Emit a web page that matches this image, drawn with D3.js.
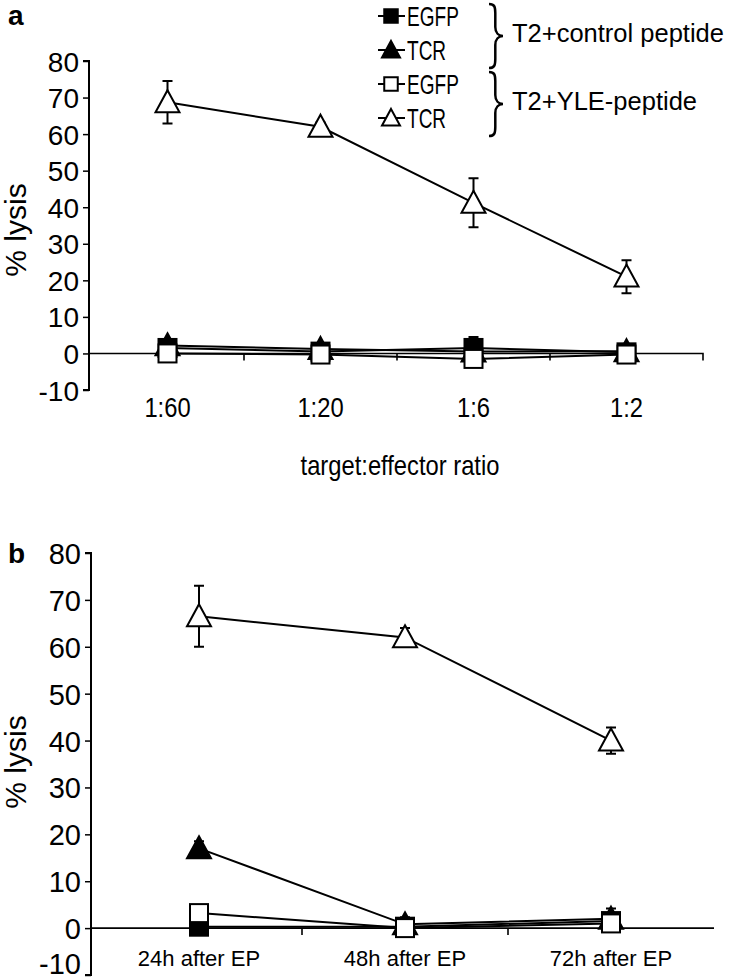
<!DOCTYPE html>
<html><head><meta charset="utf-8">
<script src="https://cdn.jsdelivr.net/npm/d3@7"></script>
<style>body{margin:0;background:#fff}svg{display:block}text{font-family:"Liberation Sans",Arial,sans-serif;fill:#000}</style>
</head><body><svg id="c" width="730" height="978"></svg>
<script>
// ---- data ----
const categoriesA = ["1:60", "1:20", "1:6", "1:2"];
const egfpCtrlA = [1.5, 0.5, 1.5, 0.3];
const egfpCtrlAErr = [1, 0.8, 3, 0.6];
const tcrCtrlA = [2.2, 1.2, 0.5, 0.6];
const tcrCtrlAErr = [1.5, 1.2, 1, 1];
const egfpYleA = [0, -0.3, -1.5, -0.3];
const egfpYleAErr = [0.5, 0.5, 0.5, 0.5];
const tcrYleA = [68.7, 62, 41.2, 21];
const tcrYleAErr = [5.8, 1.2, 6.7, 4.5];

const categoriesB = ["24h after EP", "48h after EP", "72h after EP"];
const egfpCtrlB = [0.3, 0.3, 1.5];
const egfpCtrlBErr = [0.5, 0.5, 0.5];
const tcrCtrlB = [17, 0.8, 2];
const tcrCtrlBErr = [1.5, 1.5, 2.2];
const egfpYleB = [3.2, 0, 1];
const egfpYleBErr = [0.5, 0.5, 0.5];
const tcrYleB = [66.5, 62, 40];
const tcrYleBErr = [6.5, 2, 2.8];

const yTicks = [80, 70, 60, 50, 40, 30, 20, 10, 0, -10];
const legendLabels = ["EGFP", "TCR", "EGFP", "TCR"];
const groupLabels = ["T2+control peptide", "T2+YLE-peptide"];

const svg = d3.select("#c");

function marker(g, type, x, y, s) {
  s = s || 1;
  if (type === "sq" || type === "sqo") {
    const h = 9 * s;
    g.append("rect").attr("x", x - h).attr("y", y - h).attr("width", 2 * h).attr("height", 2 * h)
      .attr("fill", type === "sq" ? "#000" : "#fff").attr("stroke", "#000").attr("stroke-width", 2);
  } else {
    const w = 12 * s, h = 22 * s;
    g.append("path").attr("d", `M${x},${y - h * 0.55}L${x + w},${y + h * 0.45}L${x - w},${y + h * 0.45}Z`)
      .attr("fill", type === "tri" ? "#000" : "#fff").attr("stroke", "#000").attr("stroke-width", 2);
  }
}

function panel(cfg) {
  const g = svg.append("g");
  const x = d3.scaleBand().domain(cfg.cats).range([cfg.xLeft, cfg.right]).paddingInner(0).paddingOuter(0);
  const y = d3.scaleLinear().domain([-10, 80]).range([cfg.bottom, cfg.top]);
  const cx = c => x(c) + x.bandwidth() / 2;

  // y axis
  const ya = d3.axisLeft(y).tickValues(yTicks).tickSize(6).tickFormat(d => String(d));
  const yg = g.append("g").attr("transform", `translate(${cfg.left},0)`).call(ya);
  yg.attr("font-family", null).attr("font-size", null);
  yg.select(".domain").attr("stroke-width", 2).attr("d", `M-6,${y(80)}H0V${y(-10)}H-6`);
  yg.selectAll(".tick line").attr("stroke-width", 1.5);
  yg.selectAll(".tick text").attr("font-size", cfg.tickFont).attr("x", -10)
    .attr("dy", d => (d === -10 && cfg.liftLast) ? "-0.04em" : "0.36em");

  // zero line (category axis)
  const xa = d3.axisBottom(x).tickSize(0).tickFormat(d => d);
  const xg = g.append("g").attr("transform", `translate(0,${y(0)})`).call(xa);
  xg.attr("font-family", null).attr("font-size", null);
  xg.select(".domain").attr("stroke-width", 1.6).attr("d", `M${cfg.left},0H${cfg.right}` + (cfg.endTick ? "V7" : ""));
  xg.selectAll(".tick text").attr("font-size", cfg.catFont).attr("dy", "0.36em").attr("y", 0)
    .attr("transform", `translate(0,${cfg.catLabelY - y(0)}) scale(${cfg.catScale},1)`);
  cfg.cats.slice(1).forEach(c => {
    g.append("line").attr("x1", x(c)).attr("x2", x(c)).attr("y1", y(0)).attr("y2", y(0) + 7)
      .attr("stroke", "#000").attr("stroke-width", 1.6);
  });

  const line = d3.line().x((d, i) => cx(cfg.cats[i])).y(d => y(d));
  cfg.series.forEach(s => {
    s.vals.forEach((v, i) => {
      const e = s.err[i], xx = cx(cfg.cats[i]);
      if (e <= 0) return;
      g.append("path").attr("d", `M${xx},${y(v - e)}V${y(v + e)}M${xx - 5},${y(v + e)}H${xx + 5}M${xx - 5},${y(v - e)}H${xx + 5}`)
        .attr("stroke", "#000").attr("stroke-width", 2).attr("fill", "none");
    });
  });
  cfg.series.forEach(s => {
    g.append("path").datum(s.vals).attr("d", line).attr("fill", "none").attr("stroke", "#000").attr("stroke-width", 2);
    s.vals.forEach((v, i) => marker(g, s.type, cx(cfg.cats[i]), y(v)));
  });

  g.append("text").attr("transform", `translate(${cfg.ylabX},${cfg.ylabY}) rotate(-90)`)
    .attr("text-anchor", "middle").attr("dy", "0.36em").attr("font-size", cfg.ylabFont).text("% lysis");
  g.append("text").attr("x", 8).attr("y", cfg.letterY).attr("font-size", 28).attr("font-weight", "bold").text(cfg.letter);
  return { x, y };
}

panel({
  cats: categoriesA, left: 89, xLeft: 91, right: 703, top: 61, bottom: 390, endTick: true, liftLast: false,
  tickFont: 28, catFont: 27, catScale: 0.88, catLabelY: 407, ylabX: 15, ylabY: 230, ylabFont: 30, letter: "a", letterY: 25,
  series: [
    { vals: egfpCtrlA, err: egfpCtrlAErr, type: "sq" },
    { vals: tcrCtrlA, err: tcrCtrlAErr, type: "tri" },
    { vals: egfpYleA, err: egfpYleAErr, type: "sqo" },
    { vals: tcrYleA, err: tcrYleAErr, type: "trio" }
  ]
});
svg.append("text").attr("transform", "translate(400,465) scale(0.88,1)").attr("dy", "0.36em")
  .attr("text-anchor", "middle").attr("font-size", 27).text("target:effector ratio");

panel({
  cats: categoriesB, left: 91, xLeft: 96, right: 714, top: 553, bottom: 975, endTick: false, liftLast: true,
  tickFont: 29, catFont: 22, catScale: 1, catLabelY: 958, ylabX: 15, ylabY: 762, ylabFont: 30, letter: "b", letterY: 563,
  series: [
    { vals: egfpCtrlB, err: egfpCtrlBErr, type: "sq" },
    { vals: tcrCtrlB, err: tcrCtrlBErr, type: "tri" },
    { vals: egfpYleB, err: egfpYleBErr, type: "sqo" },
    { vals: tcrYleB, err: tcrYleBErr, type: "trio" }
  ]
});

// legend
const leg = svg.append("g");
const legTypes = ["sq", "tri", "sqo", "trio"];
const legY = [16, 50, 84, 118];
legendLabels.forEach((t, i) => {
  leg.append("line").attr("x1", 378).attr("x2", 405).attr("y1", legY[i]).attr("y2", legY[i]).attr("stroke", "#000").attr("stroke-width", 2);
  marker(leg, legTypes[i], 391, legY[i], 0.75);
  leg.append("text").attr("transform", `translate(407,${legY[i]}) scale(0.68,1)`).attr("dy", "0.36em").attr("font-size", 28).text(t);
});
function brace(x0, y0, y1, w) {
  const ym = (y0 + y1) / 2, xm = x0 + w * 0.45, r = 9;
  return `M${x0},${y0}C${x0 + w * 0.4},${y0} ${xm},${y0 + 3} ${xm},${y0 + r}L${xm},${ym - r}C${xm},${ym - 3} ${x0 + w * 0.7},${ym} ${x0 + w},${ym}` +
         `C${x0 + w * 0.7},${ym} ${xm},${ym + 3} ${xm},${ym + r}L${xm},${y1 - r}C${xm},${y1 - 3} ${x0 + w * 0.4},${y1} ${x0},${y1}`;
}
[[33, groupLabels[0]], [101, groupLabels[1]]].forEach(([cy, t]) => {
  leg.append("path").attr("d", brace(489, cy - 29, cy + 35, 14)).attr("fill", "none").attr("stroke", "#000").attr("stroke-width", 2.5);
  leg.append("text").attr("x", 512).attr("y", cy).attr("dy", "0.36em").attr("font-size", 25.5).text(t);
});
</script></body></html>
